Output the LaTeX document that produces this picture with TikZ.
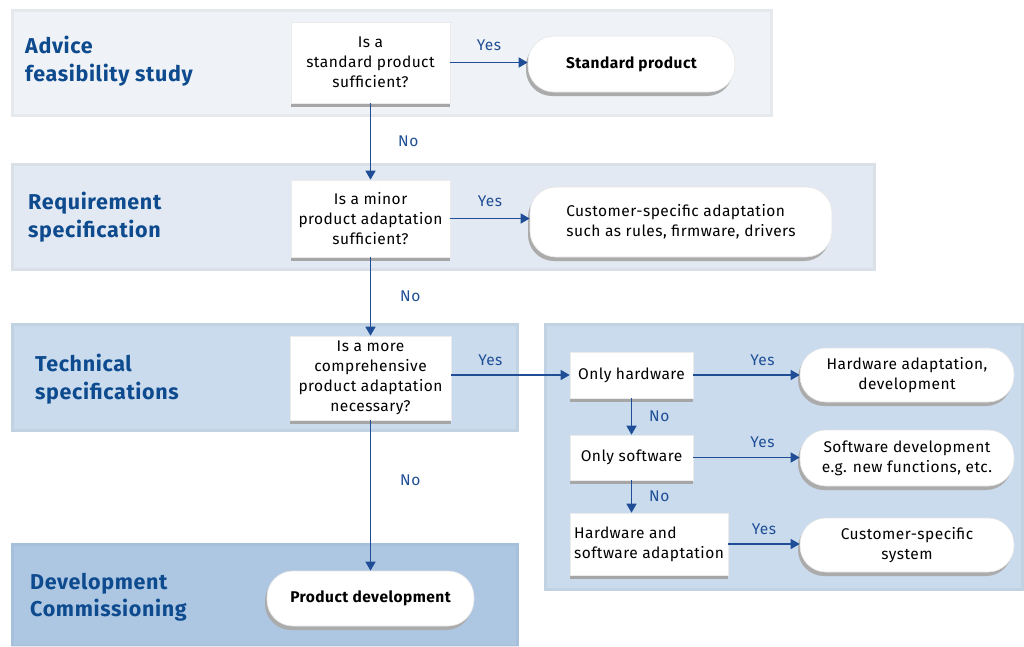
\documentclass[tikz,border=0pt]{standalone}
\usepackage{fontspec}
\setmainfont[LetterSpace=3]{Fira Sans}
\usetikzlibrary{arrows.meta,shadows,calc}
\definecolor{bandA}{HTML}{EFF3F7}
\definecolor{bandB}{HTML}{E3E9F2}
\definecolor{bandC}{HTML}{C9DBED}
\definecolor{bandD}{HTML}{ADC7E3}
\definecolor{headblue}{HTML}{0D4A8E}
\definecolor{arrowblue}{HTML}{1F4E96}
\begin{document}
\begin{tikzpicture}[x=1pt,y=-1pt,
  band/.style={line width=3pt,opacity=0.25},
  heading/.style={anchor=west,align=left,font=\fontsize{21.5}{27.5}\selectfont\bfseries,text=headblue,inner sep=0pt},
  qbox/.style={fill=white,draw=white!92!black,line width=0.6pt,align=center,
    font=\fontsize{15.5}{20}\selectfont,inner sep=2pt,
    drop shadow={shadow xshift=0pt,shadow yshift=-3.5pt,fill=black!35,opacity=1}},
  rbox/.style={fill=white,draw=white!90!black,line width=0.6pt,rounded corners=26pt,align=center,
    font=\fontsize{15.5}{20}\selectfont,inner sep=2pt,
    drop shadow={shadow xshift=-2pt,shadow yshift=-4pt,fill=black!33,opacity=1}},
  flow/.style={draw=arrowblue,line width=1.4pt,-{Triangle[length=9pt,width=10pt]}},
  lab/.style={text=arrowblue,font=\fontsize{15.5}{18}\selectfont,inner sep=0pt}]
\useasboundingbox (0,0) rectangle (1024,646);
% bands
\fill[bandA] (11,9) rectangle (773,117);
\fill[bandB] (11,163) rectangle (876,271);
\fill[bandC] (11,323) rectangle (519,432);
\fill[bandC] (544,323) rectangle (1024,591);
\fill[bandD] (11,543) rectangle (519,646);
\draw[band,draw=bandA!85!black] (12.5,10.5) rectangle (771.5,115.5);
\draw[band,draw=bandB!85!black] (12.5,164.5) rectangle (874.5,269.5);
\draw[band,draw=bandC!85!black] (12.5,324.5) rectangle (517.5,430.5);
\draw[band,draw=bandC!85!black] (545.5,324.5) rectangle (1022.5,589.5);
\draw[band,draw=bandD!85!black] (12.5,544.5) rectangle (517.5,646);
% headings
\node[heading] (h1) at (25,61) {Advice\\feasibility study};
\node[heading] (h2) at (28,217) {Requirement\\specification};
\node[heading] (h3) at (35,379) {Technical\\specifications};
\node[heading] (h4) at (30,597) {Development\\Commissioning};
% main column
\node[qbox,minimum width=159,minimum height=81] (q1) at (370.5,62.5) {Is a\\standard product\\sufficient?};
\node[qbox,minimum width=159,minimum height=77] (q2) at (370.5,218.5) {Is a minor\\product adaptation\\sufficient?};
\node[qbox,minimum width=161,minimum height=84] (q3) at (370.5,378) {Is a more\\comprehensive\\product adaptation\\necessary?};
\node[rbox,minimum width=207,minimum height=56,font=\fontsize{15.5}{20}\selectfont\bfseries] (std) at (631.5,64) {Standard product};
\node[rbox,minimum width=302,minimum height=70,align=left] (csa) at (681,222) {Customer-specific adaptation\\such as rules, firmware, drivers};
\node[rbox,minimum width=207,minimum height=55,font=\fontsize{15.5}{20}\selectfont\bfseries] (pd) at (370.5,598.5) {Product development};
% right panel
\node[qbox,minimum width=123,minimum height=46] (oh) at (631.5,375) {Only hardware};
\node[qbox,minimum width=123,minimum height=45] (os) at (631.5,457.5) {Only software};
\node[qbox,minimum width=158,minimum height=62,align=left] (hs) at (649,544) {Hardware and\\software adaptation};
\node[rbox,minimum width=214,minimum height=54] (ha) at (907,375) {Hardware adaptation,\\development};
\node[rbox,minimum width=214,minimum height=56] (sd) at (907,458) {Software development\\e.g. new functions, etc.};
\node[rbox,minimum width=214,minimum height=54] (cs) at (907,545) {Customer-specific\\system};
% connectors
\draw[flow] (q1.east) -- (q1.east -| std.west) node[lab,pos=0.5,above=11pt] (y1) {Yes};
\draw[flow] (q1.south) -- (q2.north) node[lab,pos=0.5,right=27pt] (n1) {No};
\draw[flow] (q2.east) -- (q2.east -| csa.west) node[lab,pos=0.5,above=11pt] (y2) {Yes};
\draw[flow] (q2.south) -- (q3.north) node[lab,pos=0.5,right=29pt] (n2) {No};
\draw[flow] (q3.south) -- (q3.south |- pd.north) node[lab,pos=0.4,right=29pt] (n3) {No};
\draw[flow] (q3.east |- oh.west) -- (oh.west) node[lab,pos=0.33,above=9pt] (y3) {Yes};
\draw[flow] (oh.east) -- (oh.east -| ha.west) node[lab,pos=0.65,above=9pt] (y4) {Yes};
\draw[flow] (os.east) -- (os.east -| sd.west) node[lab,pos=0.65,above=9pt] (y5) {Yes};
\draw[flow] (hs.east) -- (hs.east -| cs.west) node[lab,pos=0.5,above=9pt] (y6) {Yes};
\draw[flow] (oh.south) -- (os.north) node[lab,pos=0.5,right=17pt] (n4) {No};
\draw[flow] (os.south) -- (os.south |- hs.north) node[lab,pos=0.5,right=17pt] (n5) {No};
\end{tikzpicture}
\end{document}
